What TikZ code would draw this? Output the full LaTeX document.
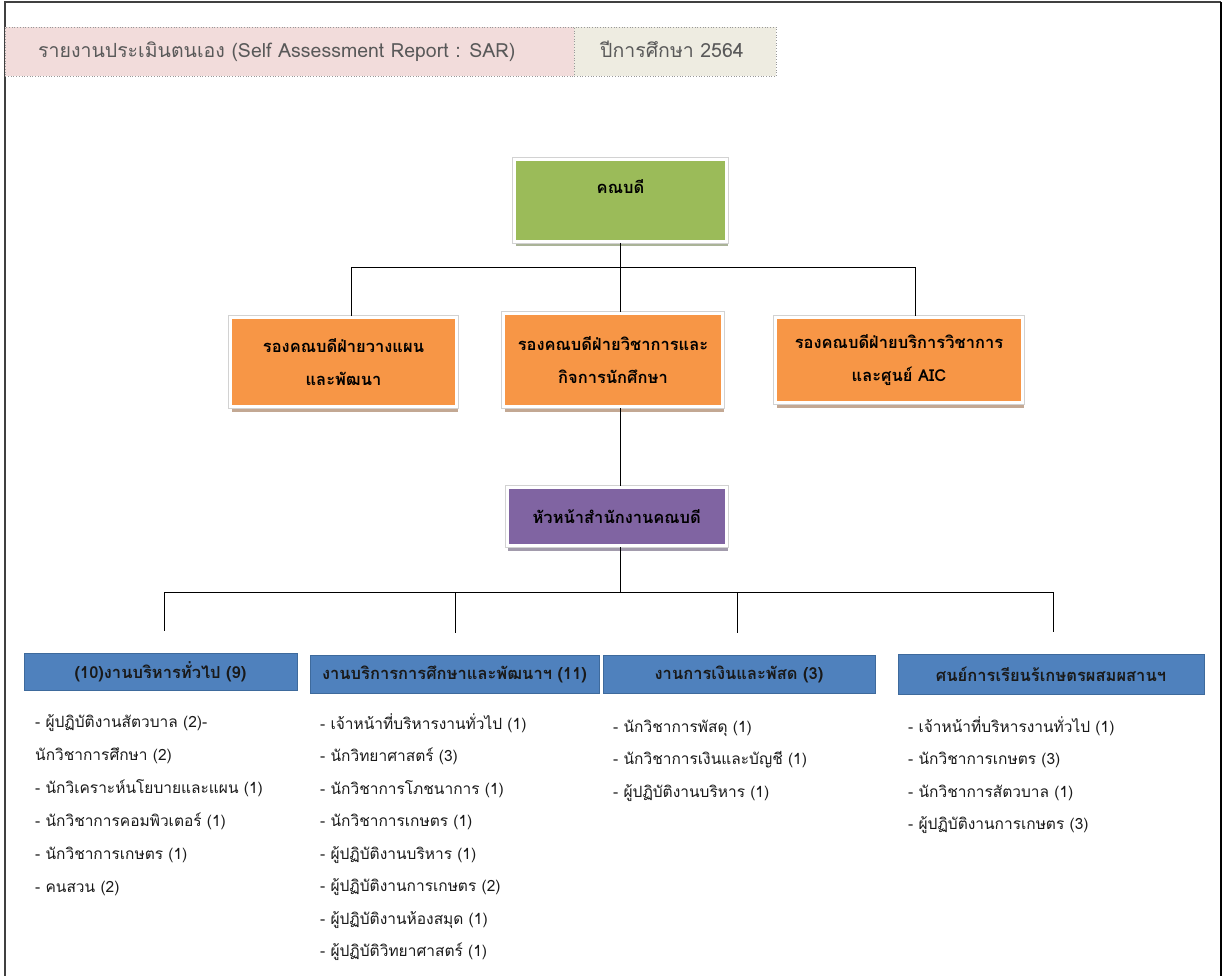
\documentclass[tikz,border=0pt]{standalone}
\usepackage{fontspec}
\setmainfont[Script=Thai]{Loma}
\usetikzlibrary{shadows}
\definecolor{hdrpink}{HTML}{F2DCDB}
\definecolor{hdrbeige}{HTML}{EEECE1}
\definecolor{hdrtext}{HTML}{595959}
\definecolor{deangreen}{HTML}{9BBB59}
\definecolor{vporange}{HTML}{F79646}
\definecolor{headpurple}{HTML}{8064A2}
\definecolor{unitblue}{HTML}{4F81BD}
\definecolor{unitborder}{HTML}{3E6A9C}
\definecolor{framecol}{HTML}{404040}
\tikzset{
  hdrbox/.style={draw=gray!80, dotted, line width=0.7pt, inner sep=0pt, anchor=north west},
  hdrtxt/.style={text=hdrtext, font=\fontsize{19.5}{22}\selectfont, inner sep=0pt},
  cbox/.style={fill=#1, inner sep=0pt, align=center,
    drop shadow={shadow xshift=1pt, shadow yshift=-5pt, fill=#1!55!black, opacity=0.5},
    preaction={draw=gray!35, line width=4.6pt},
    draw=white, line width=3pt,
    font=\bfseries\fontsize{16.5}{33}\selectfont},
  ubox/.style={fill=unitblue, draw=unitborder, line width=0.8pt, inner sep=0pt,
    text=black!90, font=\bfseries\fontsize{16.5}{20}\selectfont},
  item/.style={anchor=base west, inner sep=0pt, text=black!90, font=\fontsize{15.5}{20}\selectfont},
  conn/.style={draw=black, line width=1pt}
}
\begin{document}
\begin{tikzpicture}[x=1pt,y=-1pt]
\useasboundingbox (0,0) rectangle (1223,976);
% outer frame
\draw[framecol, line width=1.5pt] (5,976) -- (5,2) -- (1221,2);
\draw[black, line width=2pt] (1221,2) -- (1221,976);
% header
\node[hdrbox, fill=hdrpink, minimum width=569, minimum height=49] (title) at (5,27) {};
\node[hdrbox, fill=hdrbeige, minimum width=202, minimum height=49] (year) at (574,27) {};
\node[hdrtxt, anchor=base west] (titletext) at (38,58) {รายงานประเมินตนเอง (Self Assessment Report : SAR)};
\node[hdrtxt, anchor=base] (yeartext) at (672,58) {ปีการศึกษา 2564};
% dean
\node[cbox=deangreen, minimum width=212, minimum height=82] (dean) at (620.5,200.5) {};
\node[inner sep=0pt, font=\bfseries\fontsize{16.5}{20}\selectfont] (deantext) at (620.5,187) {คณบดี};
% vice deans
\node[cbox=vporange, minimum width=226, minimum height=89] (vp1) at (343.5,362) {รองคณบดีฝ่ายวางแผน\\และพัฒนา};
\node[cbox=vporange, minimum width=219, minimum height=93] (vp2) at (613,360) {รองคณบดีฝ่ายวิชาการและ\\กิจการนักศึกษา};
\node[cbox=vporange, minimum width=247, minimum height=85] (vp3) at (899,360) {รองคณบดีฝ่ายบริการวิชาการ\\และศูนย์ AIC};
% head of office
\node[cbox=headpurple, minimum width=219.5, minimum height=58] (head) at (616.75,516.5) {หัวหน้าสำนักงานคณบดี};
% units
\node[ubox, minimum width=273, minimum height=37] (u1) at (160.5,671.5) {(10)งานบริหารทั่วไป (9)};
\node[ubox, minimum width=289, minimum height=38] (u2) at (454.5,674) {งานบริการการศึกษาและพัฒนาฯ (11)};
\node[ubox, minimum width=272, minimum height=38] (u3) at (739,674) {งานการเงินและพัสด (3)};
\node[ubox, minimum width=306, minimum height=40] (u4) at (1051,674) {ศนย์การเรียนร้เกษตรผสมผสานฯ};
% connectors upper
\coordinate (ba1) at (351,268);
\coordinate (ba3) at (915,268);
\draw[conn] (dean.south) -- (dean.south |- vp2.north);
\draw[conn] (vp1.north -| ba1) -- (ba1) -- (ba3) -- (vp3.north -| ba3);
\draw[conn] (vp2.south -| dean.south) -- (head.north -| dean.south);
% connectors lower
\coordinate (bb) at (620,592);
\draw[conn] (head.south -| bb) -- (bb);
\coordinate (bl) at (164,592);
\coordinate (bm1) at (455,592);
\coordinate (bm2) at (737,592);
\coordinate (br) at (1053,592);
\draw[conn] (bl) -- (br);
\draw[conn] (bl) -- ([yshift=22pt]bl |- u1.north);
\draw[conn] (bm1) -- ([yshift=22pt]bm1 |- u2.north);
\draw[conn] (bm2) -- ([yshift=22pt]bm2 |- u3.north);
\draw[conn] (br) -- ([yshift=22pt]br |- u4.north);
% lists
\foreach \t [count=\i] in {- ผู้ปฏิบัติงานสัตวบาล (2)-, นักวิชาการศึกษา (2), - นักวิเคราะห์นโยบายและแผน (1), - นักวิชาการคอมพิวเตอร์ (1), - นักวิชาการเกษตร (1), - คนสวน (2)}
  \node[item] (la\i) at (35,{727+33*(\i-1)}) {\t};
\foreach \t [count=\i] in {- เจ้าหน้าที่บริหารงานทั่วไป (1), - นักวิทยาศาสตร์ (3), - นักวิชาการโภชนาการ (1), - นักวิชาการเกษตร (1), - ผู้ปฏิบัติงานบริหาร (1), - ผู้ปฏิบัติงานการเกษตร (2), - ผู้ปฏิบัติงานห้องสมุด (1), - ผู้ปฏิบัติวิทยาศาสตร์ (1)}
  \node[item] (lb\i) at (320,{729+32.5*(\i-1)}) {\t};
\foreach \t [count=\i] in {- นักวิชาการพัสดุ (1), - นักวิชาการเงินและบัญชี (1), - ผู้ปฏิบัติงานบริหาร (1)}
  \node[item] (lc\i) at (613,{732+32.5*(\i-1)}) {\t};
\foreach \t [count=\i] in {- เจ้าหน้าที่บริหารงานทั่วไป (1), - นักวิชาการเกษตร (3), - นักวิชาการสัตวบาล (1), - ผู้ปฏิบัติงานการเกษตร (3)}
  \node[item] (ld\i) at (908,{732+32.5*(\i-1)}) {\t};
\end{tikzpicture}
\end{document}
